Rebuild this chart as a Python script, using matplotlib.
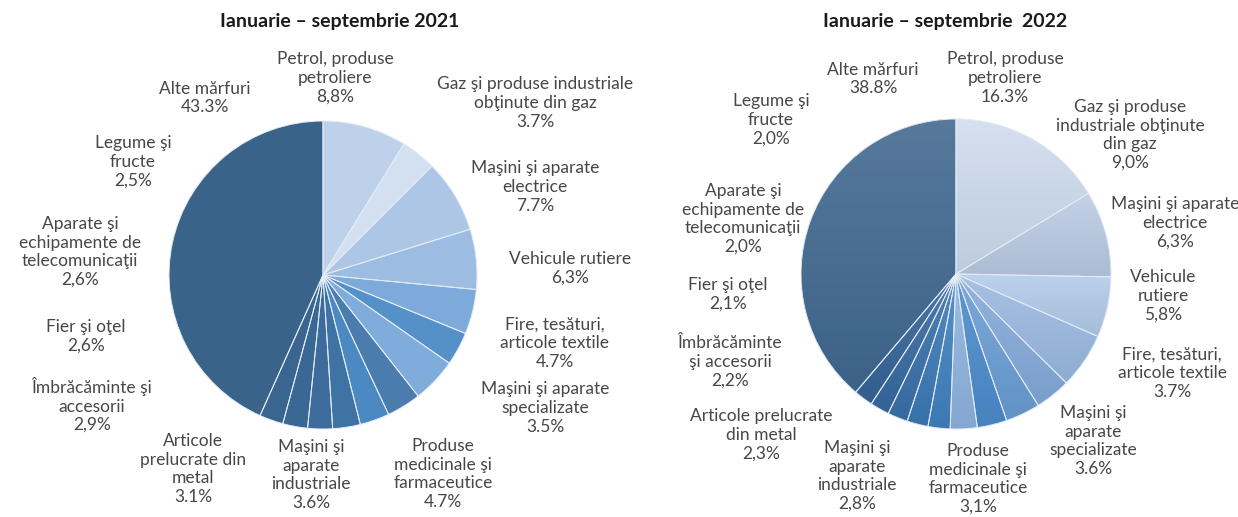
import numpy as np
import matplotlib.pyplot as plt
from matplotlib.colors import to_rgb

# date: ponderea grupelor de marfuri, clockwise de la ora 12
labels_2021 = [
    "Petrol, produse\npetroliere",
    "Gaz şi produse industriale\nobţinute din gaz",
    "Maşini şi aparate\nelectrice",
    "Vehicule rutiere",
    "Fire, tesături,\narticole textile",
    "Maşini şi aparate\nspecializate",
    "Produse\nmedicinale şi\nfarmaceutice",
    "Maşini şi\naparate\nindustriale",
    "Articole\nprelucrate din\nmetal",
    "Îmbrăcăminte şi\naccesorii",
    "Fier şi oţel",
    "Aparate şi\nechipamente de\ntelecomunicaţii",
    "Legume şi\nfructe",
    "Alte mărfuri",
]
values_2021 = [8.8, 3.7, 7.7, 6.3, 4.7, 3.5, 4.7, 3.6, 3.1, 2.9, 2.6, 2.6, 2.5, 43.3]
sep_2021 = [",", ".", ".", ",", ".", ".", ".", ".", ".", ",", ",", ",", ",", "."]

labels_2022 = [
    "Petrol, produse\npetroliere",
    "Gaz şi produse\nindustriale obţinute\ndin gaz",
    "Maşini şi aparate\nelectrice",
    "Vehicule\nrutiere",
    "Fire, tesături,\narticole textile",
    "Maşini şi\naparate\nspecializate",
    "Produse\nmedicinale şi\nfarmaceutice",
    "Maşini şi\naparate\nindustriale",
    "Articole prelucrate\ndin metal",
    "Îmbrăcăminte\nşi accesorii",
    "Fier şi oţel",
    "Aparate şi\nechipamente de\ntelecomunicaţii",
    "Legume şi\nfructe",
    "Alte mărfuri",
]
values_2022 = [16.3, 9.0, 6.3, 5.8, 3.7, 3.6, 3.1, 2.8, 2.3, 2.2, 2.1, 2.0, 2.0, 38.8]
sep_2022 = [".", ",", ",", ",", ".", ".", ",", ",", ",", ",", ",", ",", ",", "."]

titles = ["Ianuarie – septembrie 2021", "Ianuarie – septembrie  2022"]

# culori
colors_2021 = ["#bdd1eb", "#d3e0f1", "#adc6e6", "#9cbce2", "#7eaadb", "#5590c8", "#80acdc",
               "#4a7cae", "#4a89c2", "#3f73a3", "#3d6c9c", "#3a6895", "#3a6590", "#3a6389"]
colors_2022 = ["#cfdcee", "#bccbe2", "#b3cbea", "#9bb9e0", "#84aad9", "#6a9dd3", "#4a8bcb",
               "#8fb4df", "#3f80be", "#3b78b4", "#386fa8", "#35689e", "#336295", "#3f678e"]

# pozitii etichete (pixeli, centrul blocului de text)
pos_2021 = [(335, 78), (535, 103), (535, 187), (570, 268), (555, 343), (545, 408), (443, 474),
            (311, 475), (193, 469), (92, 405), (86, 336), (80, 252), (133, 162), (205, 98)]
pos_2022 = [(1005, 78), (1130, 135), (1175, 223), (1163, 296), (1172, 373), (1093, 441), (978, 479),
            (857, 476), (761, 435), (730, 362), (728, 294), (743, 219), (771, 120), (873, 79)]

W, H = 1238, 517
FONT = ["Lato", "DejaVu Sans"]
TXT = "#474747"

fig = plt.figure(figsize=(12.38, 5.17), dpi=100)
ax = fig.add_axes([0, 0, 1, 1])


def blend(c, target, f):
    c = np.array(to_rgb(c))
    t = np.array(to_rgb(target))
    return c * (1 - f) + t * f


def draw_pie(values, colors, cx, cy, r, gradient=False):
    wedges, _ = ax.pie(values, colors=colors, startangle=90, counterclock=False,
                       center=(cx, H - cy), radius=r, frame=True,
                       wedgeprops=dict(linewidth=0))
    if gradient:
        for w, c in zip(wedges, colors):
            bb = w.get_path().get_extents()
            top = blend(c, "white", 0.12)
            bot = blend(c, "#1f3550", 0.10)
            n = 64
            f = np.linspace(0, 1, n)[:, None]
            grad = bot[None, :] * (1 - f) + top[None, :] * f
            grad = np.repeat(grad[:, None, :], 2, axis=1)
            im = ax.imshow(grad, extent=(bb.x0, bb.x1, bb.y0, bb.y1), origin="lower",
                           aspect="auto", interpolation="bilinear", zorder=2)
            im.set_clip_path(w)
    ax.pie(values, colors=["none"] * len(values), startangle=90, counterclock=False,
           center=(cx, H - cy), radius=r, frame=True,
           wedgeprops=dict(linewidth=0.7, edgecolor="#e3ebf5", zorder=3))


def draw_labels(labels, values, seps, positions):
    for lab, v, s, (x, y) in zip(labels, values, seps, positions):
        pct = f"{v:.1f}".replace(".", s) + "%"
        ax.text(x, H - y, lab + "\n" + pct, ha="center", va="center", fontsize=12.5,
                family=FONT, color=TXT, linespacing=1.2, zorder=5)


draw_pie(values_2021, colors_2021, 323, 275, 154)
draw_pie(values_2022, colors_2022, 956, 274, 155, gradient=True)
draw_labels(labels_2021, values_2021, sep_2021, pos_2021)
draw_labels(labels_2022, values_2022, sep_2022, pos_2022)

ax.text(340, H - 22, titles[0], ha="center", va="center", fontsize=14,
        family=FONT, fontweight="bold", color="#1a1a1a")
ax.text(945, H - 22, titles[1], ha="center", va="center", fontsize=14,
        family=FONT, fontweight="bold", color="#1a1a1a")

ax.set_autoscale_on(False)
ax.set_xlim(0, W)
ax.set_ylim(0, H)
ax.set_aspect("equal")
ax.axis("off")

fig.savefig("out.png", dpi=100, facecolor="white")
